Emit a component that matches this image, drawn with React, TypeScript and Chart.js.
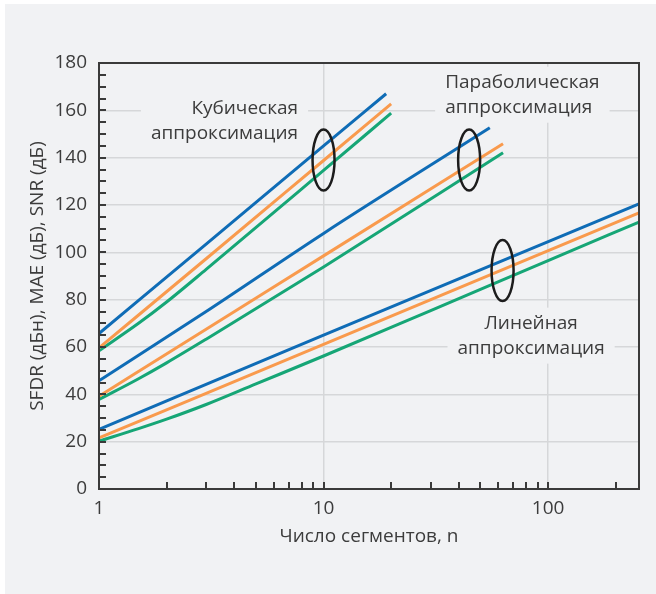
import React, { useEffect, useRef } from 'react';
import { Chart, registerables } from 'chart.js';

Chart.register(...registerables);

// ---- Data ----
// Cubic approximation
const cubicBlueN = [1, 3, 10, 19];
const cubicBlue = [65.7, 103.5, 145, 167];
const cubicOrangeN = [1, 3, 10, 20];
const cubicOrange = [59.6, 97.3, 138.8, 162.7];
const cubicGreenN = [1, 1.5, 2, 3, 10, 20];
const cubicGreen = [58.4, 70, 79, 92.8, 134.6, 158.8];
// Parabolic approximation
const parBlueN = [1, 3, 10, 55];
const parBlue = [45.7, 75, 108, 152.6];
const parOrangeN = [1, 3, 10, 63];
const parOrange = [39.2, 67.5, 98.5, 145.9];
const parGreenN = [1, 1.5, 2, 3, 10, 63];
const parGreen = [37.8, 46.6, 53.3, 63.3, 93.8, 142.1];
// Linear approximation
const linBlueN = [1, 10, 254];
const linBlue = [25.2, 65, 120.5];
const linOrangeN = [1, 10, 254];
const linOrange = [21.6, 61.1, 116.7];
const linGreenN = [1, 1.5, 2, 3, 5, 10, 30, 100, 254];
const linGreen = [20.2, 25.5, 29.5, 35.7, 44.4, 56.2, 75.4, 96.5, 112.8];

// Axes
const xMin = 1;
const xMax = 254;
const xTickLabels = [1, 10, 100];
const xMinorTicks = [2, 3, 4, 5, 6, 7, 8, 9, 10, 20, 30, 40, 50, 60, 70, 80, 90, 100, 200];
const yMin = 0;
const yMax = 180;
const yStep = 20;
const yMinorStep = 5;

const xTitle = 'Число сегментов, n';
const yTitle = 'SFDR (дБн), MAE (дБ), SNR (дБ)';

// Annotations
const cubicLabel = ['Кубическая', 'аппроксимация'];
const parLabel = ['Параболическая', 'аппроксимация'];
const linLabel = ['Линейная', 'аппроксимация'];
// ellipse centres (n, value)
const ellipseCenters = [
  [10, 139],
  [44.5, 139],
  [62.7, 92.3],
];

const BLUE = '#0f6cb6';
const ORANGE = '#f99a4d';
const GREEN = '#16a676';
const BG = '#f1f2f4';
const GRID = '#d6d7d9';
const AXIS = '#3a3a3a';
const TEXT = '#3c3c3c';
const FONT_FAMILY = '"Open Sans", sans-serif';
const FONT_SIZE = 19;

function series(n: number[], v: number[]) {
  return n.map((x, i) => ({ x, y: v[i] }));
}

const decor = {
  id: 'decor',
  beforeDraw(chart: any) {
    const ctx = chart.ctx;
    ctx.save();
    ctx.fillStyle = '#ffffff';
    ctx.fillRect(0, 0, chart.width, chart.height);
    ctx.fillStyle = BG;
    ctx.fillRect(5, 4, chart.width - 5, chart.height - 4);
    ctx.restore();
  },
  afterDatasetsDraw(chart: any) {
    const { ctx, chartArea, scales } = chart;
    const { left, right, top, bottom } = chartArea;
    const x = scales.x;
    const y = scales.y;
    ctx.save();

    // label boxes + text
    ctx.font = `${FONT_SIZE}px ${FONT_FAMILY}`;
    ctx.textBaseline = 'middle';
    const lh = 25;
    const drawLabel = (lines: string[], px: number, py: number, align: 'left' | 'right' | 'center') => {
      const w = Math.max(...lines.map((l) => ctx.measureText(l).width));
      let bx = px;
      if (align === 'right') bx = px - w;
      if (align === 'center') bx = px - w / 2;
      const h = lh * lines.length;
      ctx.fillStyle = BG;
      ctx.fillRect(bx - 10, py - h / 2 - 3, w + 20, h + 6);
      ctx.fillStyle = TEXT;
      ctx.textAlign = align;
      lines.forEach((l, i) => {
        ctx.fillText(l, px, py - h / 2 + lh * (i + 0.5));
      });
    };
    drawLabel(cubicLabel, x.getPixelForValue(7.7), y.getPixelForValue(155.4), 'right');
    drawLabel(parLabel, x.getPixelForValue(34.8), y.getPixelForValue(166.6), 'left');
    drawLabel(linLabel, x.getPixelForValue(84), y.getPixelForValue(64.8), 'center');

    // ellipses
    ctx.strokeStyle = '#1c1c1c';
    ctx.lineWidth = 2.5;
    ellipseCenters.forEach(([n, v]) => {
      ctx.beginPath();
      ctx.ellipse(x.getPixelForValue(n), y.getPixelForValue(v), 11, 30.5, 0, 0, Math.PI * 2);
      ctx.stroke();
    });

    // minor ticks (inward)
    ctx.strokeStyle = AXIS;
    ctx.lineWidth = 2;
    ctx.beginPath();
    for (let v = yMin + yMinorStep; v < yMax; v += yMinorStep) {
      const py = Math.round(y.getPixelForValue(v));
      ctx.moveTo(left, py);
      ctx.lineTo(left + 7, py);
    }
    xMinorTicks.forEach((n) => {
      const px = Math.round(x.getPixelForValue(n));
      ctx.moveTo(px, bottom);
      ctx.lineTo(px, bottom - 7);
    });
    ctx.stroke();

    // frame
    ctx.lineWidth = 2;
    ctx.strokeStyle = AXIS;
    ctx.strokeRect(left, top, right - left, bottom - top);
    ctx.restore();
  },
};

export default function App() {
  const ref = useRef<HTMLCanvasElement | null>(null);

  useEffect(() => {
    if (!ref.current) return;
    const font = { family: FONT_FAMILY, size: FONT_SIZE };
    const mk = (label: string, n: number[], v: number[], color: string) => ({
      label,
      data: series(n, v),
      borderColor: color,
      backgroundColor: color,
      borderWidth: 3,
      pointRadius: 0,
      fill: false,
      cubicInterpolationMode: 'monotone' as const,
    });
    const chart = new Chart(ref.current, {
      type: 'line',
      data: {
        datasets: [
          mk('Cubic SFDR', cubicBlueN, cubicBlue, BLUE),
          mk('Cubic MAE', cubicOrangeN, cubicOrange, ORANGE),
          mk('Cubic SNR', cubicGreenN, cubicGreen, GREEN),
          mk('Parabolic SFDR', parBlueN, parBlue, BLUE),
          mk('Parabolic MAE', parOrangeN, parOrange, ORANGE),
          mk('Parabolic SNR', parGreenN, parGreen, GREEN),
          mk('Linear SFDR', linBlueN, linBlue, BLUE),
          mk('Linear MAE', linOrangeN, linOrange, ORANGE),
          mk('Linear SNR', linGreenN, linGreen, GREEN),
        ],
      },
      options: {
        responsive: false,
        animation: false,
        events: [],
        layout: { padding: { left: 0, top: 63, right: 17, bottom: 0 } },
        plugins: { legend: { display: false }, tooltip: { enabled: false } },
        scales: {
          x: {
            type: 'logarithmic',
            min: xMin,
            max: xMax,
            afterBuildTicks: (s: any) => {
              s.ticks = [1, ...xMinorTicks].map((value) => ({ value }));
            },
            afterFit: (s: any) => {
              s.height = 105;
            },
            ticks: {
              autoSkip: false,
              maxRotation: 0,
              padding: 8,
              color: TEXT,
              font,
              callback: (value: any) => (xTickLabels.includes(Number(value)) ? String(value) : ''),
            },
            grid: {
              drawTicks: false,
              lineWidth: 1.5,
              color: (c: any) => (c.tick && (c.tick.value === 10 || c.tick.value === 100) ? GRID : 'rgba(0,0,0,0)'),
            },
            border: { display: false },
            title: {
              display: true,
              text: xTitle,
              color: TEXT,
              font,
              padding: { top: 0, bottom: 46 },
            },
          },
          y: {
            type: 'linear',
            min: yMin,
            max: yMax,
            afterFit: (s: any) => {
              s.width = 99;
            },
            ticks: { stepSize: yStep, padding: 12, color: TEXT, font },
            grid: {
              drawTicks: false,
              lineWidth: 1.5,
              color: (c: any) => (c.tick && (c.tick.value === yMin || c.tick.value === yMax) ? 'rgba(0,0,0,0)' : GRID),
            },
            border: { display: false },
            title: {
              display: true,
              text: yTitle,
              color: TEXT,
              font,
              padding: { top: 26, bottom: 0 },
            },
          },
        },
      },
      plugins: [decor],
    } as any);
    return () => chart.destroy();
  }, []);

  return (
    <div style={{ position: 'fixed', left: 0, top: 0, width: 656, height: 594 }}>
      <canvas ref={ref} width={656} height={594} style={{ display: 'block', width: 656, height: 594 }} />
    </div>
  );
}
